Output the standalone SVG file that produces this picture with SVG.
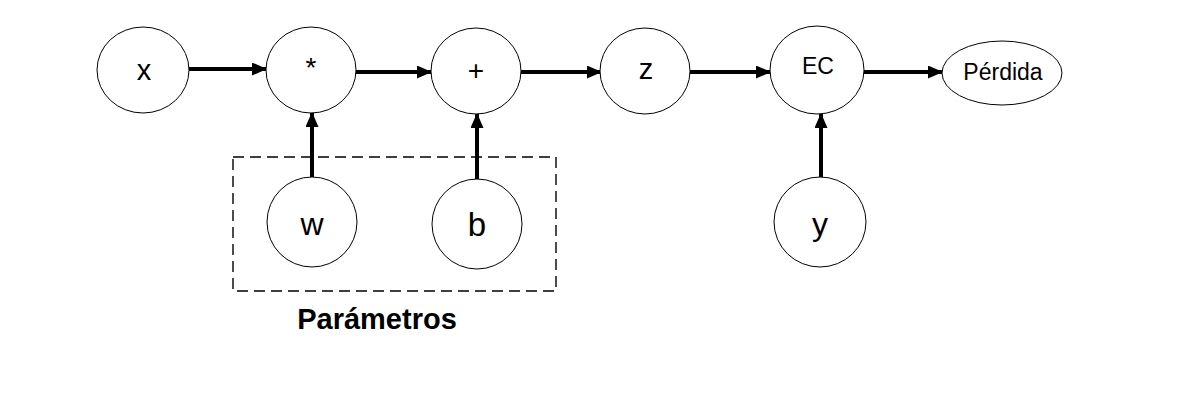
<svg xmlns="http://www.w3.org/2000/svg" width="1200" height="400" viewBox="0 0 1200 400">
<style>
.n{fill:#fff;stroke:#000;stroke-width:1}
.t{font-family:"Liberation Sans",Arial,sans-serif;fill:#000;text-anchor:middle}
.e{stroke:#000;stroke-width:4;fill:none}
</style>
<defs>
<marker id="ah" markerUnits="userSpaceOnUse" markerWidth="15" markerHeight="13" refX="14" refY="6.5" orient="auto">
<path d="M0,0 L15,6.5 L0,13 z" fill="#000"/>
</marker>
</defs>
<rect width="1200" height="400" fill="#fff"/>
<g id="params-group">
<rect x="233" y="157" width="323" height="134" fill="none" stroke="#000" stroke-width="1.4" stroke-dasharray="11,6"/>
<text class="t" x="377" y="329" font-size="29" font-weight="bold">Parámetros</text>
</g>
<g id="connectors">
<line class="e" x1="189" y1="69" x2="266" y2="69" marker-end="url(#ah)"/>
<line class="e" x1="356" y1="72" x2="431" y2="72" marker-end="url(#ah)"/>
<line class="e" x1="521" y1="72" x2="601" y2="72" marker-end="url(#ah)"/>
<line class="e" x1="690" y1="72" x2="770" y2="72" marker-end="url(#ah)"/>
<line class="e" x1="864" y1="72" x2="942" y2="72" marker-end="url(#ah)"/>
<line class="e" x1="312" y1="177" x2="312" y2="113" marker-end="url(#ah)"/>
<line class="e" x1="477" y1="179" x2="477" y2="114" marker-end="url(#ah)"/>
<line class="e" x1="821" y1="177" x2="821" y2="114" marker-end="url(#ah)"/>
</g>
<g id="node-x"><ellipse class="n" cx="143" cy="70" rx="46" ry="43"/><text class="t" x="144" y="80" font-size="29">x</text></g>
<g id="node-mul"><ellipse class="n" cx="311" cy="70" rx="45" ry="43"/><text class="t" x="311" y="77" font-size="28">*</text></g>
<g id="node-add"><ellipse class="n" cx="476" cy="71" rx="45" ry="43"/><text class="t" x="476" y="80" font-size="28">+</text></g>
<g id="node-z"><ellipse class="n" cx="645" cy="71" rx="45" ry="43"/><text class="t" x="646" y="79" font-size="29">z</text></g>
<g id="node-ec"><ellipse class="n" cx="817" cy="70" rx="47" ry="44"/><text class="t" x="818" y="74" font-size="23">EC</text></g>
<g id="node-loss"><ellipse class="n" cx="1002" cy="73" rx="60" ry="32"/><text class="t" x="1003" y="80" font-size="23">Pérdida</text></g>
<g id="node-w"><ellipse class="n" cx="312" cy="222" rx="45" ry="45"/><text class="t" x="312" y="235" font-size="32">w</text></g>
<g id="node-b"><ellipse class="n" cx="477" cy="224" rx="45" ry="45"/><text class="t" x="477" y="236" font-size="33">b</text></g>
<g id="node-y"><ellipse class="n" cx="820" cy="222" rx="46" ry="45"/><text class="t" x="820" y="235" font-size="32">y</text></g>
</svg>
